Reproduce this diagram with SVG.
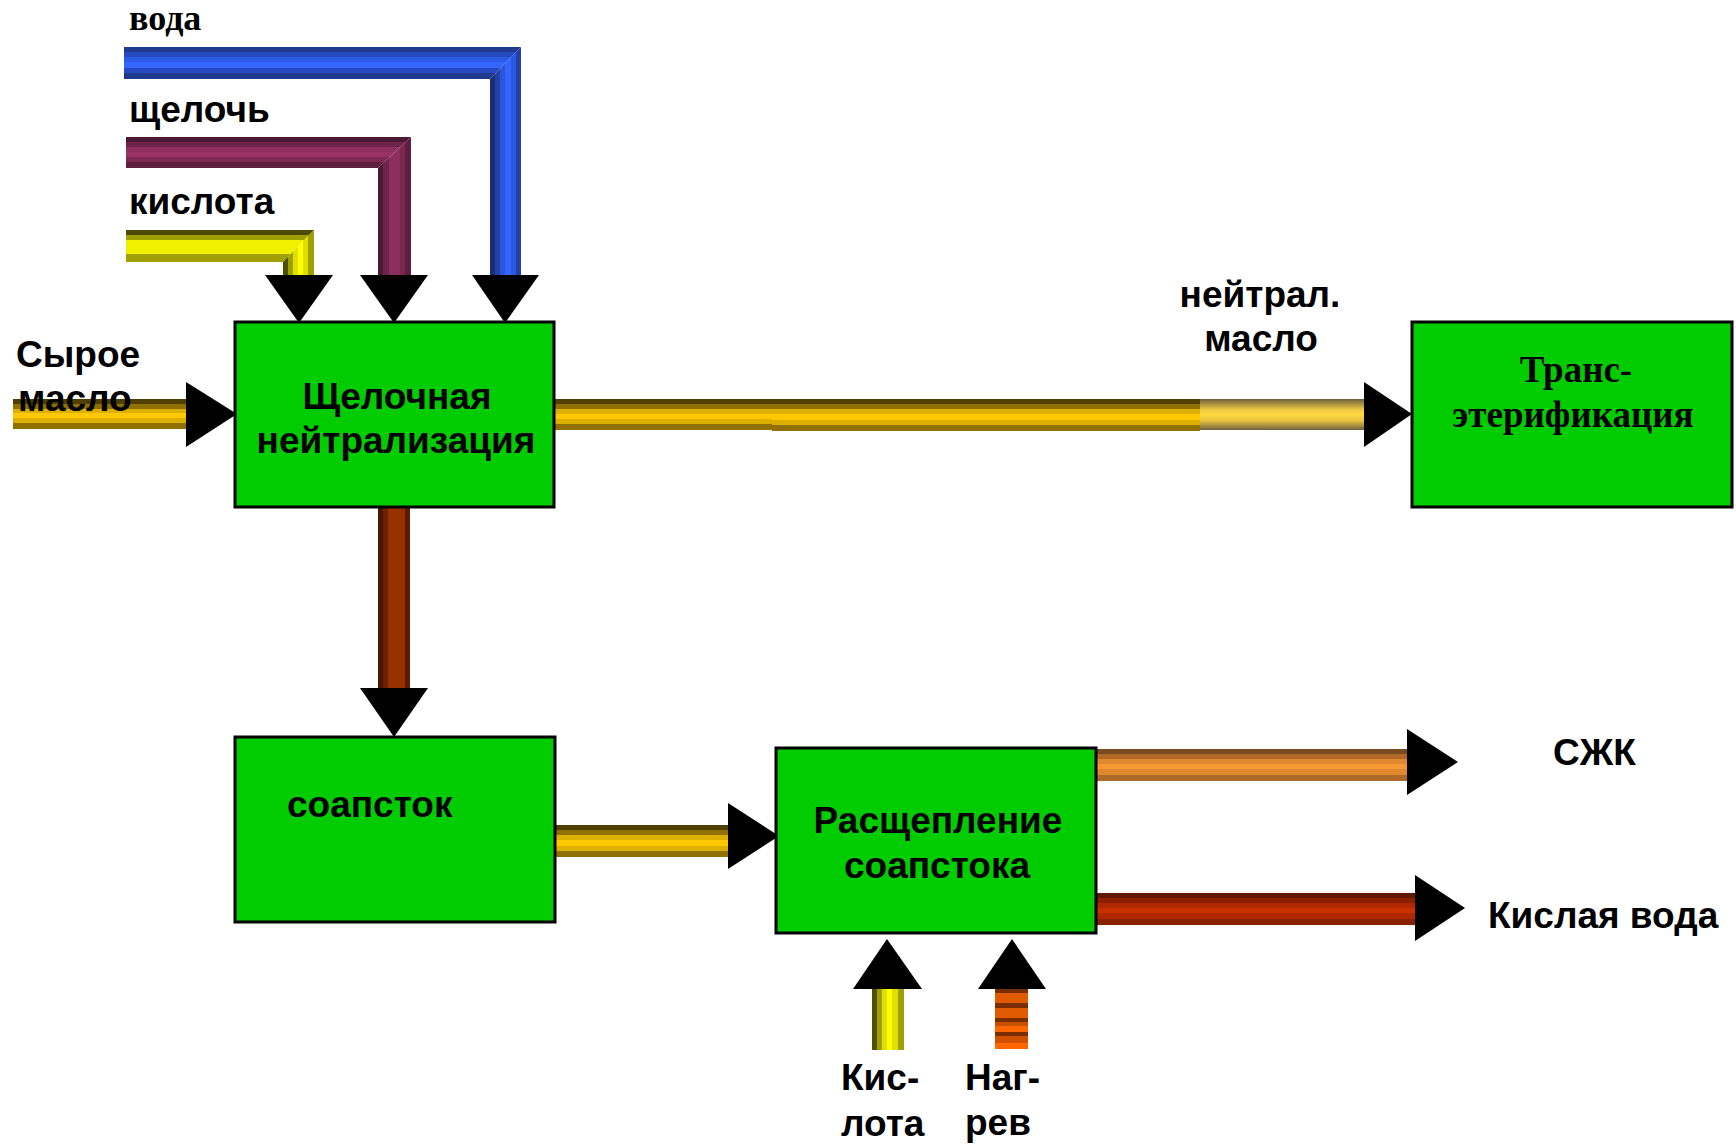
<svg xmlns="http://www.w3.org/2000/svg" width="1736" height="1146" viewBox="0 0 1736 1146">
<style>
.box{fill:#00cc00;stroke:#000;stroke-width:3}
.s{font-family:"Liberation Sans",Arial,sans-serif;font-weight:bold;font-size:37px;fill:#000}
.r{font-family:"Liberation Serif","Times New Roman",serif;font-weight:bold;font-size:37px;fill:#000}
.m{text-anchor:middle}
.head{fill:#000}
</style>
<defs>
<linearGradient id="oilH" x1="0" y1="0" x2="0" y2="1">
<stop offset="0" stop-color="#4f3f00"/><stop offset=".16" stop-color="#4f3f00"/>
<stop offset=".16" stop-color="#8f7000"/><stop offset=".32" stop-color="#8f7000"/>
<stop offset=".32" stop-color="#ddb000"/><stop offset=".48" stop-color="#ddb000"/>
<stop offset=".48" stop-color="#ffc800"/><stop offset=".65" stop-color="#ffc800"/>
<stop offset=".65" stop-color="#ddb000"/><stop offset=".81" stop-color="#ddb000"/>
<stop offset=".81" stop-color="#8f7000"/><stop offset="1" stop-color="#8f7000"/>
</linearGradient>
<linearGradient id="oilSmooth" x1="0" y1="0" x2="0" y2="1">
<stop offset="0" stop-color="#6e6040"/><stop offset=".35" stop-color="#f0cc44"/>
<stop offset=".5" stop-color="#ffd840"/><stop offset=".7" stop-color="#e8c440"/>
<stop offset="1" stop-color="#6e6040"/>
</linearGradient>
<linearGradient id="blueH" x1="0" y1="0" x2="0" y2="1">
<stop offset="0" stop-color="#1f3a8f"/><stop offset=".16" stop-color="#1f3a8f"/>
<stop offset=".16" stop-color="#2648c0"/><stop offset=".31" stop-color="#2648c0"/>
<stop offset=".31" stop-color="#2d5ae6"/><stop offset=".47" stop-color="#2d5ae6"/>
<stop offset=".47" stop-color="#3366ff"/><stop offset=".66" stop-color="#3366ff"/>
<stop offset=".66" stop-color="#2648c0"/><stop offset=".81" stop-color="#2648c0"/>
<stop offset=".81" stop-color="#1f3a8f"/><stop offset="1" stop-color="#1f3a8f"/>
</linearGradient>
<linearGradient id="blueV" x1="0" y1="0" x2="1" y2="0">
<stop offset="0" stop-color="#1a2f70"/><stop offset=".15" stop-color="#1a2f70"/>
<stop offset=".15" stop-color="#2440a8"/><stop offset=".31" stop-color="#2440a8"/>
<stop offset=".31" stop-color="#2c55d8"/><stop offset=".47" stop-color="#2c55d8"/>
<stop offset=".47" stop-color="#3366ff"/><stop offset=".69" stop-color="#3366ff"/>
<stop offset=".69" stop-color="#2c58e0"/><stop offset=".84" stop-color="#2c58e0"/>
<stop offset=".84" stop-color="#2440a8"/><stop offset="1" stop-color="#2440a8"/>
</linearGradient>
<linearGradient id="purH" x1="0" y1="0" x2="0" y2="1">
<stop offset="0" stop-color="#4a1a34"/><stop offset=".16" stop-color="#4a1a34"/>
<stop offset=".16" stop-color="#6e2448"/><stop offset=".32" stop-color="#6e2448"/>
<stop offset=".32" stop-color="#8e2e5c"/><stop offset=".48" stop-color="#8e2e5c"/>
<stop offset=".48" stop-color="#9a3264"/><stop offset=".66" stop-color="#9a3264"/>
<stop offset=".66" stop-color="#7e2852"/><stop offset=".82" stop-color="#7e2852"/>
<stop offset=".82" stop-color="#5e1e3e"/><stop offset="1" stop-color="#5e1e3e"/>
</linearGradient>
<linearGradient id="purV" x1="0" y1="0" x2="1" y2="0">
<stop offset="0" stop-color="#4a1a34"/><stop offset=".16" stop-color="#4a1a34"/>
<stop offset=".16" stop-color="#6e2448"/><stop offset=".32" stop-color="#6e2448"/>
<stop offset=".32" stop-color="#8e2e5c"/><stop offset=".66" stop-color="#8e2e5c"/>
<stop offset=".66" stop-color="#7a2850"/><stop offset=".82" stop-color="#7a2850"/>
<stop offset=".82" stop-color="#5e1e3e"/><stop offset="1" stop-color="#5e1e3e"/>
</linearGradient>
<linearGradient id="yelH" x1="0" y1="0" x2="0" y2="1">
<stop offset="0" stop-color="#4f4a00"/><stop offset=".16" stop-color="#4f4a00"/>
<stop offset=".16" stop-color="#a0a000"/><stop offset=".31" stop-color="#a0a000"/>
<stop offset=".31" stop-color="#f0f000"/><stop offset=".75" stop-color="#f0f000"/>
<stop offset=".75" stop-color="#a0a000"/><stop offset="1" stop-color="#a0a000"/>
</linearGradient>
<linearGradient id="yelV" x1="0" y1="0" x2="1" y2="0">
<stop offset="0" stop-color="#4f4f00"/><stop offset=".16" stop-color="#4f4f00"/>
<stop offset=".16" stop-color="#a0a000"/><stop offset=".32" stop-color="#a0a000"/>
<stop offset=".32" stop-color="#e0e000"/><stop offset=".48" stop-color="#e0e000"/>
<stop offset=".48" stop-color="#ffff00"/><stop offset=".64" stop-color="#ffff00"/>
<stop offset=".64" stop-color="#e0e000"/><stop offset=".8" stop-color="#e0e000"/>
<stop offset=".8" stop-color="#a0a000"/><stop offset="1" stop-color="#a0a000"/>
</linearGradient>
<linearGradient id="brownV" x1="0" y1="0" x2="1" y2="0">
<stop offset="0" stop-color="#4a1800"/><stop offset=".16" stop-color="#4a1800"/>
<stop offset=".16" stop-color="#6a2200"/><stop offset=".31" stop-color="#6a2200"/>
<stop offset=".31" stop-color="#983000"/><stop offset=".84" stop-color="#983000"/>
<stop offset=".84" stop-color="#5a1c00"/><stop offset="1" stop-color="#5a1c00"/>
</linearGradient>
<linearGradient id="orangeH" x1="0" y1="0" x2="0" y2="1">
<stop offset="0" stop-color="#7a4a20"/><stop offset=".16" stop-color="#7a4a20"/>
<stop offset=".16" stop-color="#b06a28"/><stop offset=".31" stop-color="#b06a28"/>
<stop offset=".31" stop-color="#e08830"/><stop offset=".47" stop-color="#e08830"/>
<stop offset=".47" stop-color="#f89830"/><stop offset=".63" stop-color="#f89830"/>
<stop offset=".63" stop-color="#e08830"/><stop offset=".8" stop-color="#e08830"/>
<stop offset=".8" stop-color="#b06a28"/><stop offset="1" stop-color="#b06a28"/>
</linearGradient>
<linearGradient id="redH" x1="0" y1="0" x2="0" y2="1">
<stop offset="0" stop-color="#601800"/><stop offset=".16" stop-color="#601800"/>
<stop offset=".16" stop-color="#8a2000"/><stop offset=".31" stop-color="#8a2000"/>
<stop offset=".31" stop-color="#b02800"/><stop offset=".47" stop-color="#b02800"/>
<stop offset=".47" stop-color="#c83000"/><stop offset=".63" stop-color="#c83000"/>
<stop offset=".63" stop-color="#b02800"/><stop offset=".8" stop-color="#b02800"/>
<stop offset=".8" stop-color="#8a2000"/><stop offset="1" stop-color="#8a2000"/>
</linearGradient>
<linearGradient id="heatV" x1="0" y1="0" x2="0" y2="1">
<stop offset="0" stop-color="#7a2e00"/><stop offset=".07" stop-color="#7a2e00"/>
<stop offset=".07" stop-color="#e05a00"/><stop offset=".23" stop-color="#e05a00"/>
<stop offset=".23" stop-color="#7a2e00"/><stop offset=".32" stop-color="#7a2e00"/>
<stop offset=".32" stop-color="#e05a00"/><stop offset=".48" stop-color="#e05a00"/>
<stop offset=".48" stop-color="#7a2e00"/><stop offset=".55" stop-color="#7a2e00"/>
<stop offset=".55" stop-color="#c84e00"/><stop offset=".62" stop-color="#c84e00"/>
<stop offset=".62" stop-color="#ff6600"/><stop offset=".72" stop-color="#ff6600"/>
<stop offset=".72" stop-color="#7a2e00"/><stop offset=".78" stop-color="#7a2e00"/>
<stop offset=".78" stop-color="#d05000"/><stop offset=".9" stop-color="#d05000"/>
<stop offset=".9" stop-color="#ff6600"/><stop offset="1" stop-color="#ff6600"/>
</linearGradient>
</defs>

<g id="connectors">
<!-- вода -->
<polygon points="124,47 521,47 490,79 124,79" fill="url(#blueH)"/>
<polygon points="490,79 521,47 521,275 490,275" fill="url(#blueV)"/>
<polygon class="head" points="472,275 539,275 505,323"/>
<!-- щелочь -->
<polygon points="126,137 411,137 378,168 126,168" fill="url(#purH)"/>
<polygon points="378,168 411,137 411,275 378,275" fill="url(#purV)"/>
<polygon class="head" points="360,275 428,275 394,323"/>
<!-- кислота -->
<polygon points="126,230 314,230 283,262 126,262" fill="url(#yelH)"/>
<polygon points="283,262 314,230 314,275 283,275" fill="url(#yelV)"/>
<polygon class="head" points="265,275 333,275 299,323"/>
<!-- сырое масло -->
<rect x="13" y="399" width="173" height="30" fill="url(#oilH)"/>
<polygon class="head" points="186,382 186,447 237,414"/>
<!-- нейтрал. масло -->
<rect x="553" y="399" width="219" height="31" fill="url(#oilH)"/>
<rect x="772" y="399" width="428" height="32" fill="url(#oilH)"/>
<rect x="1200" y="399" width="164" height="31" fill="url(#oilSmooth)"/>
<polygon class="head" points="1364,382 1364,447 1412,414"/>
<!-- в соапсток -->
<rect x="378" y="507" width="32" height="181" fill="url(#brownV)"/>
<polygon class="head" points="360,688 428,688 394,737"/>
<!-- соапсток -> расщепление -->
<rect x="555" y="825" width="173" height="32" fill="url(#oilH)"/>
<polygon class="head" points="728,803 728,869 779,836"/>
<!-- СЖК -->
<rect x="1096" y="749" width="311" height="32" fill="url(#orangeH)"/>
<polygon class="head" points="1407,729 1407,795 1458,762"/>
<!-- кислая вода -->
<rect x="1097" y="893" width="318" height="32" fill="url(#redH)"/>
<polygon class="head" points="1415,875 1415,941 1465,908"/>
<!-- кислота вверх -->
<rect x="872" y="989" width="32" height="61" fill="url(#yelV)"/>
<polygon class="head" points="853,989 922,989 887,939"/>
<!-- нагрев -->
<rect x="995" y="989" width="33" height="60" fill="url(#heatV)"/>
<polygon class="head" points="978,989 1046,989 1012,939"/>
</g>

<g id="node-neutralization">
<rect class="box" x="235" y="322" width="319" height="185"/>
<text class="s m" x="397" y="409">Щелочная</text>
<text class="s m" x="396" y="453">нейтрализация</text>
</g>
<g id="node-trans">
<rect class="box" x="1412" y="322" width="320" height="185"/>
<text class="r m" x="1576" y="382">Транс-</text>
<text class="r m" x="1573" y="427">этерификация</text>
</g>
<g id="node-soapstock">
<rect class="box" x="235" y="737" width="320" height="185"/>
<text class="s" x="287" y="817">соапсток</text>
</g>
<g id="node-splitting">
<rect class="box" x="776" y="748" width="320" height="185"/>
<text class="s m" x="938" y="833">Расщепление</text>
<text class="s m" x="937" y="878">соапстока</text>
</g>

<g id="labels">
<text class="r" x="129" y="30" style="font-size:36px">вода</text>
<text class="s" x="129" y="122">щелочь</text>
<text class="s" x="129" y="214">кислота</text>
<text class="s" x="16" y="367">Сырое</text>
<text class="s" x="18" y="411">масло</text>
<text class="s m" x="1260" y="307">нейтрал.</text>
<text class="s m" x="1261" y="351">масло</text>
<text class="s" x="1553" y="765">СЖК</text>
<text class="s" x="1488" y="928">Кислая вода</text>
<text class="s" x="841" y="1090">Кис-</text>
<text class="s" x="841" y="1136">лота</text>
<text class="s" x="965" y="1090">Наг-</text>
<text class="s" x="965" y="1135">рев</text>
</g>
</svg>
